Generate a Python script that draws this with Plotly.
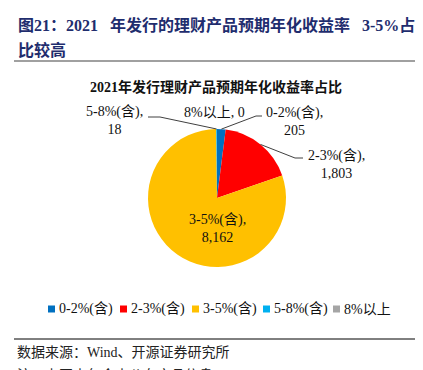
import math
import plotly.graph_objects as go

categories = ["0-2%(含)", "2-3%(含)", "3-5%(含)", "5-8%(含)", "8%以上"]
values = [205, 1803, 8162, 18, 0]
colors = ["#0070C0", "#FF0000", "#FFC000", "#00B0F0", "#A5A5A5"]

W, H = 423, 370
CX, CY, R = 209, 190, 69  # pie centre / radius in pixels

def px(x):
    return x / W

def py(y):
    return 1 - y / H

SER = "Liberation Serif, Times New Roman, Noto Sans CJK SC, serif"
NB = "\u00a0"

fig = go.Figure()
fig.add_trace(go.Pie(
    labels=categories, values=values, marker=dict(colors=colors, line=dict(width=0)),
    sort=False, direction="clockwise", rotation=0, textinfo="none",
    domain=dict(x=[px(CX - R), px(CX + R)], y=[py(CY + R), py(CY - R)]),
    hoverinfo="label+value", showlegend=False,
))

# mid angles of slices (derived from data)
total = sum(values)
mids = []
acc = 0
for v in values:
    mids.append((acc + v / 2) / total * 2 * math.pi)
    acc += v

def edge(i):
    a = mids[i]
    return CX + R * math.sin(a), CY - R * math.cos(a)

def fmt(v):
    return f"{v:,}"

LBL = dict(family=SER, size=14, color="#111")
label_pos = {
    0: (286, 104),
    1: (328, 147),
    3: (107, 103),
}
annotations = []
for i, (lx, ly) in label_pos.items():
    annotations.append(dict(
        x=px(lx), y=py(ly + 9), xref="paper", yref="paper", showarrow=False,
        text=f"{categories[i]},<br>{fmt(values[i])}", align="center",
        font=LBL, xanchor="center", yanchor="middle"))
annotations.append(dict(
    x=px(206), y=py(104), xref="paper", yref="paper", showarrow=False,
    text=f"{categories[4]}, {fmt(values[4])}",
    font=LBL, xanchor="center", yanchor="middle"))
annotations.append(dict(
    x=px(209), y=py(220), xref="paper", yref="paper", showarrow=False,
    text=f"{categories[2]},<br>{fmt(values[2])}", align="center",
    font=LBL, xanchor="center", yanchor="middle"))

# titles & notes
TITLE = dict(family=SER, size=16, color="#1F2D6E")
annotations += [
    dict(x=px(8), y=py(17), xref="paper", yref="paper", showarrow=False, xanchor="left", yanchor="middle",
         text=f"<b>图21：2021{NB*3}年发行的理财产品预期年化收益率{NB*3}3-5%占</b>", font=TITLE),
    dict(x=px(8), y=py(42), xref="paper", yref="paper", showarrow=False, xanchor="left", yanchor="middle",
         text="<b>比较高</b>", font=TITLE),
    dict(x=px(208), y=py(79), xref="paper", yref="paper", showarrow=False, xanchor="center", yanchor="middle",
         text="<b>2021年发行理财产品预期年化收益率占比</b>", font=dict(family=SER, size=14, color="#111")),
    dict(x=px(7), y=py(344), xref="paper", yref="paper", showarrow=False, xanchor="left", yanchor="middle",
         text=f"数据来源：Wind、开源证券研究所", font=dict(family=SER, size=14, color="#222")),
    dict(x=px(7), y=py(367), xref="paper", yref="paper", showarrow=False, xanchor="left", yanchor="middle",
         text="注：上图未包含未公布产品信息", font=dict(family=SER, size=14, color="#222")),
]

line_style = dict(color="#404040", width=1)
shapes = []
# leader lines
e0 = edge(0)
shapes.append(dict(type="path", xref="paper", yref="paper", line=line_style,
                   path=f"M {px(e0[0])} {py(e0[1])} L {px(248)} {py(108)} L {px(254)} {py(108)}"))
e1 = edge(1)
shapes.append(dict(type="path", xref="paper", yref="paper", line=line_style,
                   path=f"M {px(e1[0])} {py(e1[1])} L {px(287)} {py(150)} L {px(295)} {py(150)}"))
e3 = edge(3)
shapes.append(dict(type="path", xref="paper", yref="paper", line=line_style,
                   path=f"M {px(e3[0])} {py(e3[1])} L {px(152)} {py(109)} L {px(140)} {py(109)}"))
# rules
shapes.append(dict(type="line", xref="paper", yref="paper", x0=px(6), x1=px(418), y0=py(53), y1=py(53),
                   line=dict(color="#A0A0A0", width=2)))
shapes.append(dict(type="line", xref="paper", yref="paper", x0=px(6), x1=px(418), y0=py(331), y1=py(331),
                   line=dict(color="#000000", width=1)))

# legend (drawn from categories / colors)
legend_x = [40, 112, 184, 255, 325]
LEG_Y = 301
for name, col, lx in zip(categories, colors, legend_x):
    shapes.append(dict(type="rect", xref="paper", yref="paper", x0=px(lx), x1=px(lx + 7),
                       y0=py(LEG_Y + 3.5), y1=py(LEG_Y - 3.5), fillcolor=col, line=dict(width=0)))
    annotations.append(dict(x=px(lx + 9), y=py(LEG_Y), xref="paper", yref="paper", showarrow=False,
                            xanchor="left", yanchor="middle", text=name, font=LBL))

fig.update_layout(
    width=W, height=H, margin=dict(l=0, r=0, t=0, b=0),
    paper_bgcolor="white", plot_bgcolor="white",
    annotations=annotations, shapes=shapes, showlegend=False,
)
fig.write_html("out.html")
